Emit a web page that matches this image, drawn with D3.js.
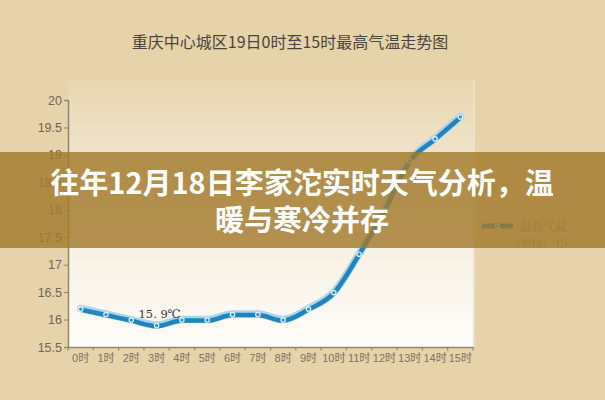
<!DOCTYPE html>
<html><head><meta charset="utf-8">
<script src="https://cdn.jsdelivr.net/npm/d3@7"></script>
<style>
html,body{margin:0;padding:0;background:#e6d3a9;}
svg{display:block;}
</style></head>
<body>
<svg id="chart" width="605" height="400"></svg>
<script>
const hours = ["0时","1时","2时","3时","4时","5时","6时","7时","8时","9时","10时","11时","12时","13时","14时","15时"];
const temps = [16.2,16.1,16.0,15.9,16.0,16.0,16.1,16.1,16.0,16.2,16.5,17.2,18.0,18.9,19.3,19.7];
const yTicks = [15.5,16,16.5,17,17.5,18,18.5,19,19.5,20];
const chartTitle = "重庆中心城区19日0时至15时最高气温走势图";
const seriesName = "最高气温";
const unitText = "（单位：℃）";
const minLabel = "15. 9℃";
const bannerLines = ["往年12月18日李家沱实时天气分析，温","暖与寒冷并存"];

const svg = d3.select("#chart");
const W = 605, H = 400;
const plot = {l:68, r:473, t:100, b:347};

const x = d3.scaleBand().domain(hours).range([plot.l, plot.r]);
const y = d3.scaleLinear().domain([15.5, 20]).range([plot.b, plot.t]);

const defs = svg.append("defs");
const g1 = defs.append("linearGradient").attr("id","pg").attr("x1",0).attr("y1",0).attr("x2",0).attr("y2",1);
g1.append("stop").attr("offset","0%").attr("stop-color","#e8d7b1");
g1.append("stop").attr("offset","55%").attr("stop-color","#f6eee0");
g1.append("stop").attr("offset","100%").attr("stop-color","#fffdf9");

svg.append("rect").attr("width",W).attr("height",H).attr("fill","#e6d3a9");
svg.append("rect").attr("x",plot.l).attr("y",80).attr("width",plot.r-plot.l).attr("height",plot.b-80).attr("fill","url(#pg)");
svg.append("line").attr("x1",plot.r+1).attr("x2",plot.r+1).attr("y1",80).attr("y2",plot.b)
  .attr("stroke","#f1e6d0").attr("stroke-width",1.5);

// title
svg.append("text").attr("x",290).attr("y",48).attr("text-anchor","middle")
  .attr("font-family","'Noto Sans CJK SC', sans-serif").attr("font-size",16)
  .attr("fill","#4a4540").text(chartTitle);

// axes
const yAxis = d3.axisLeft(y).tickValues(yTicks).tickSize(4).tickPadding(2).tickFormat(d3.format("~g"));
const ga = svg.append("g").attr("transform",`translate(${plot.l},0)`).call(yAxis);
ga.select(".domain").attr("stroke","#8f8678").attr("stroke-width",1.5);
ga.selectAll(".tick line").attr("stroke","#8f8678");
ga.selectAll(".tick text").attr("fill","#6e665a").attr("font-family","Arial, 'Liberation Sans', sans-serif").attr("font-size",12.5);

const xAxis = d3.axisBottom(x).tickSize(0).tickPadding(7);
const gx = svg.append("g").attr("transform",`translate(0,${plot.b})`).call(xAxis);
gx.select(".domain").attr("stroke","#8f8678").attr("stroke-width",1.5);
gx.selectAll(".tick text").attr("fill","#7d7262").attr("font-family","Arial, 'Noto Sans CJK SC', sans-serif").attr("font-size",11);
// boundary ticks
const bounds = hours.map((h,i)=>x(h)).concat([plot.r]);
gx.selectAll(".btick").data(bounds).enter().append("line")
  .attr("x1",d=>d).attr("x2",d=>d).attr("y1",0).attr("y2",3.5)
  .attr("stroke","#8f8678").attr("stroke-width",1.2);

// line
const pts = hours.map((h,i)=>({h, v:temps[i]}));
const lineGen = d3.line().x(d=>x(d.h)+x.bandwidth()/2).y(d=>y(d.v)).curve(d3.curveMonotoneX);
svg.append("path").datum(pts).attr("d",lineGen).attr("fill","none")
  .attr("stroke","#a9d6ee").attr("stroke-width",7.5).attr("stroke-linejoin","round").attr("stroke-linecap","round");
svg.append("path").datum(pts).attr("d",lineGen).attr("fill","none")
  .attr("transform","translate(0,1)")
  .attr("stroke","#2184bd").attr("stroke-width",4.5).attr("stroke-linejoin","round").attr("stroke-linecap","round");
svg.selectAll(".pt").data(pts).enter().append("circle")
  .attr("cx",d=>x(d.h)+x.bandwidth()/2).attr("cy",d=>y(d.v)+0.5).attr("r",2.2)
  .attr("fill","#2a8cc4").attr("stroke","#e8f4fb").attr("stroke-width",1.2);

// min annotation
const minI = temps.indexOf(d3.min(temps));
svg.append("text").attr("x",x(hours[minI])+x.bandwidth()/2+3).attr("y",y(temps[minI])-7)
  .attr("text-anchor","middle").attr("font-family","'DejaVu Serif','Liberation Serif', serif")
  .attr("font-size",11.5).attr("fill","#333").text(minLabel);

// legend
const lg = svg.append("g");
lg.append("line").attr("x1",484).attr("x2",511).attr("y1",226).attr("y2",226)
  .attr("stroke","#2184bd").attr("stroke-width",5).attr("stroke-linecap","round");
lg.append("circle").attr("cx",497.5).attr("cy",226).attr("r",2).attr("fill","#2a8cc4").attr("stroke","#e8f4fb").attr("stroke-width",1.2);
lg.append("text").attr("x",520).attr("y",231).attr("font-family","'Noto Serif CJK SC','Liberation Serif', serif")
  .attr("font-size",11.5).attr("fill","#7a7060").text(seriesName);
lg.append("text").attr("x",542).attr("y",247).attr("text-anchor","middle").attr("font-family","'Noto Serif CJK SC','Liberation Serif', serif")
  .attr("font-size",10.5).attr("fill","#7a7060").text(unitText);

// banner overlay
svg.append("rect").attr("x",0).attr("y",152).attr("width",W).attr("height",96)
  .attr("fill","rgb(162,122,45)").attr("opacity",0.82);
svg.selectAll(".bt").data(bannerLines).enter().append("text")
  .attr("x",302).attr("y",(d,i)=>194+i*37).attr("text-anchor","middle")
  .attr("font-family","'Noto Sans CJK SC', sans-serif").attr("font-weight","bold")
  .attr("font-size",29).attr("fill","#ffffff").text(d=>d);
</script>
</body></html>
